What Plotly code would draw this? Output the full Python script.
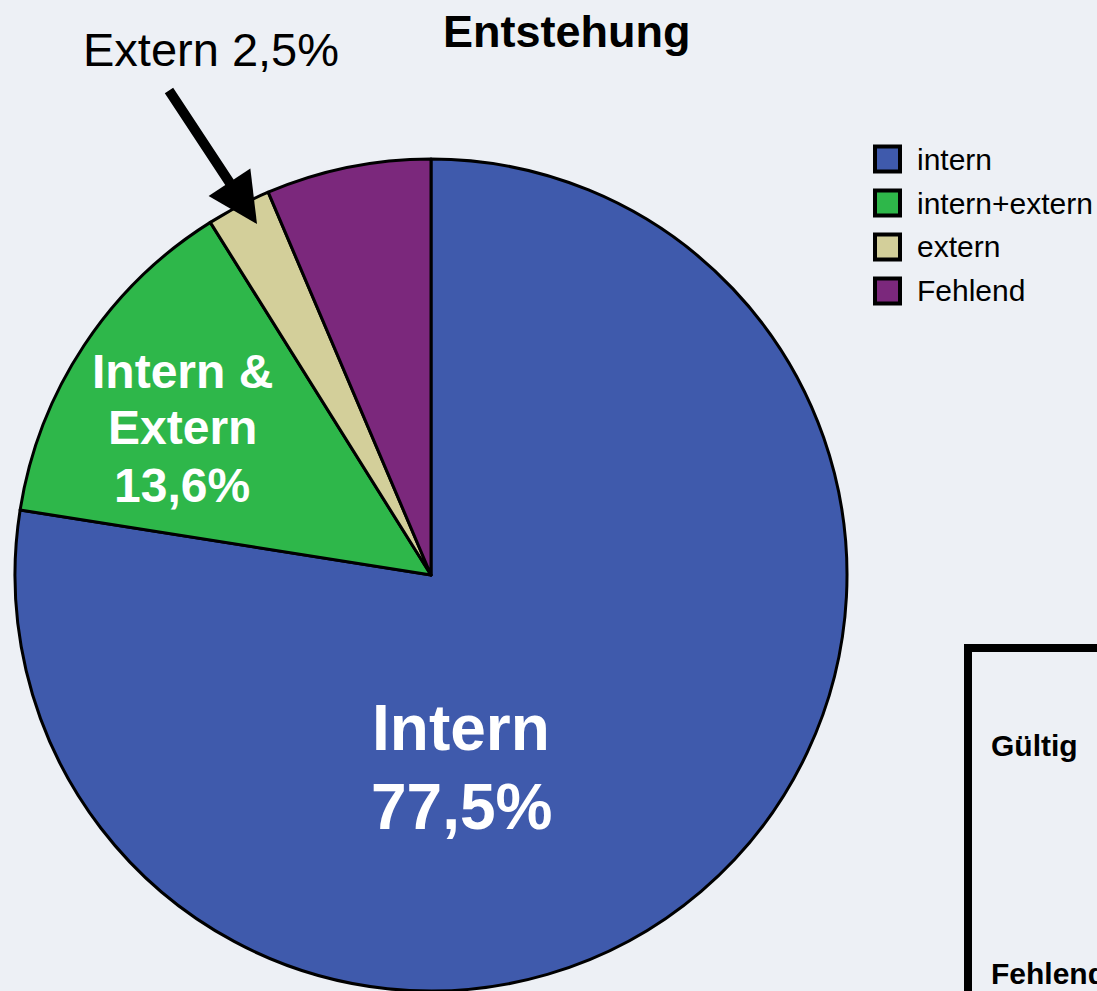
import plotly.graph_objects as go

# ---- data ----
labels = ["intern", "intern+extern", "extern", "Fehlend"]
values = [77.5, 13.6, 2.5, 6.4]
colors = ["#3F5AAC", "#2EB74A", "#D3CF9A", "#7B287C"]
title_text = "Entstehung"
table_rows = ["Gültig", "Fehlend"]

W, H = 1097, 991
BG = "#EDF0F5"
FONT = "Liberation Sans, Arial, sans-serif"


def px(x):
    return x / W


def py(y):
    return 1 - y / H


fig = go.Figure()
fig.add_trace(go.Pie(
    labels=labels,
    values=values,
    sort=False,
    direction="clockwise",
    rotation=0,
    textinfo="none",
    hoverinfo="label+percent",
    marker=dict(colors=colors, line=dict(color="black", width=3)),
    domain=dict(x=[px(15), px(847)], y=[0, py(159)]),
    showlegend=False,
))

shapes = []
annotations = []

# title
annotations.append(dict(x=px(566), y=py(31), xref="paper", yref="paper",
                        text="<b>" + title_text + "</b>", showarrow=False,
                        font=dict(family=FONT, size=45, color="black"),
                        xanchor="center", yanchor="middle"))

# slice labels
def pct(v):
    return ("%.1f" % v).replace(".", ",") + "%"

big_lines = ["Intern", pct(values[0])]
for i, t in enumerate(big_lines):
    annotations.append(dict(x=px(461), y=py(728 + 79 * i), xref="paper", yref="paper",
                            text="<b>" + t + "</b>", showarrow=False,
                            font=dict(family=FONT, size=64, color="white"),
                            xanchor="center", yanchor="middle"))

green_lines = ["Intern &amp;", "Extern", pct(values[1])]
for i, t in enumerate(green_lines):
    annotations.append(dict(x=px(182), y=py(371 + 57 * i), xref="paper", yref="paper",
                            text="<b>" + t + "</b>", showarrow=False,
                            font=dict(family=FONT, size=48, color="white"),
                            xanchor="center", yanchor="middle"))

# extern label with arrow
annotations.append(dict(x=px(211), y=py(50), xref="paper", yref="paper",
                        text="Extern " + pct(values[2]), showarrow=False,
                        font=dict(family=FONT, size=47, color="black"),
                        xanchor="center", yanchor="middle"))
annotations.append(dict(x=px(257), y=py(224), xref="paper", yref="paper",
                        text="", showarrow=True, ax=168 - 257, ay=89 - 224,
                        arrowhead=2, arrowsize=1, arrowwidth=10, arrowcolor="black",
                        standoff=0, startstandoff=0))

# manual legend
for i, (lab, col) in enumerate(zip(labels, colors)):
    cy = 159 + 44 * i
    shapes.append(dict(type="rect", xref="paper", yref="paper",
                       x0=px(875), x1=px(900), y0=py(cy - 12.5), y1=py(cy + 12.5),
                       fillcolor=col, line=dict(color="black", width=4)))
    annotations.append(dict(x=px(915), y=py(cy), xref="paper", yref="paper",
                            text=lab, showarrow=False,
                            font=dict(family=FONT, size=30, color="black"),
                            xanchor="left", yanchor="middle"))

# partial table at the bottom right
shapes.append(dict(type="rect", xref="paper", yref="paper",
                   x0=px(968), x1=px(1200), y0=py(648), y1=py(1100),
                   fillcolor="rgba(0,0,0,0)", line=dict(color="black", width=8)))
for t, yy in zip(table_rows, [745, 973]):
    annotations.append(dict(x=px(989), y=py(yy), xref="paper", yref="paper",
                            text="<b>" + t + "</b>", showarrow=False,
                            font=dict(family=FONT, size=30, color="black"),
                            xanchor="left", yanchor="middle"))

fig.update_layout(
    width=W, height=H,
    margin=dict(l=0, r=0, t=0, b=0),
    paper_bgcolor=BG, plot_bgcolor=BG,
    shapes=shapes, annotations=annotations,
    font=dict(family=FONT),
)

fig.write_html("out.html", config={"displayModeBar": False},
               post_script="document.body.style.margin='0';document.body.style.overflow='hidden';document.body.style.background='%s';" % BG)
